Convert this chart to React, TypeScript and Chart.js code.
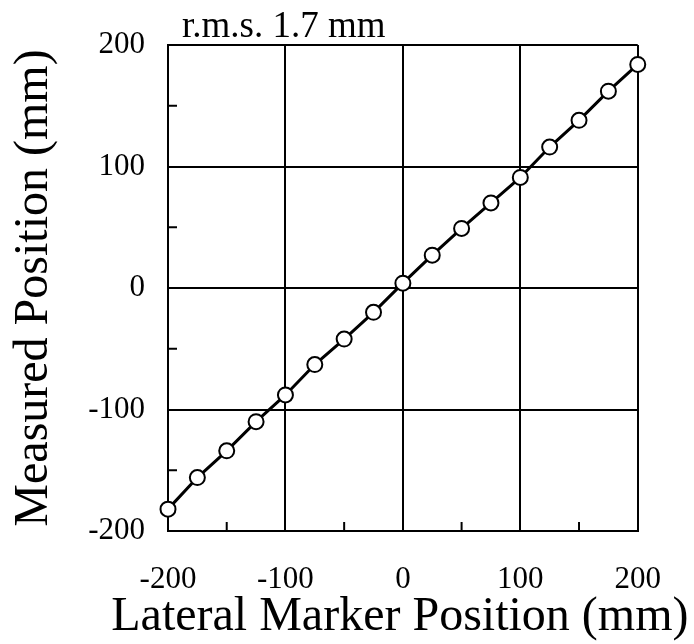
import React, { useEffect, useRef } from "react";
import { Chart, registerables } from "chart.js";
Chart.register(...registerables);

const xPositions = [-200, -175, -150, -125, -100, -75, -50, -25, 0, 25, 50, 75, 100, 125, 150, 175, 200];
const measured = [-182, -156, -134, -110, -88, -63, -42, -20, 4, 27, 49, 70, 91, 116, 138, 162, 184];
const minorTicks = [-150, -50, 50, 150];
const annotation = "r.m.s. 1.7 mm";
const xTitle = "Lateral Marker Position (mm)";
const yTitle = "Measured Position (mm)";

const FONT = '"Liberation Serif", "Times New Roman", serif';

const decorPlugin = {
  id: "decor",
  beforeDatasetsDraw(chart: any) {
    const { ctx, chartArea, scales } = chart;
    ctx.save();
    ctx.strokeStyle = "#000";
    ctx.lineWidth = 2;
    for (const v of minorTicks) {
      const x = scales.x.getPixelForValue(v);
      ctx.beginPath();
      ctx.moveTo(x, chartArea.bottom);
      ctx.lineTo(x, chartArea.bottom - 9);
      ctx.stroke();
      const y = scales.y.getPixelForValue(v);
      ctx.beginPath();
      ctx.moveTo(chartArea.left, y);
      ctx.lineTo(chartArea.left + 9, y);
      ctx.stroke();
    }
    ctx.restore();
  },
  afterDraw(chart: any) {
    const { ctx, chartArea } = chart;
    ctx.save();
    ctx.fillStyle = "#000";
    ctx.textBaseline = "alphabetic";
    // annotation
    ctx.font = `37px ${FONT}`;
    ctx.textAlign = "left";
    ctx.fillText(annotation, chartArea.left + 14, chartArea.top - 8);
    // x title
    ctx.font = `48px ${FONT}`;
    ctx.textAlign = "center";
    ctx.fillText(xTitle, (chartArea.left + chartArea.right) / 2 - 3, 630);
    // y title
    ctx.translate(47, (chartArea.top + chartArea.bottom) / 2);
    ctx.rotate(-Math.PI / 2);
    ctx.fillText(yTitle, 0, 0);
    ctx.restore();
  },
};

export default function App() {
  const ref = useRef<HTMLCanvasElement>(null);
  useEffect(() => {
    if (!ref.current) return;
    const chart = new Chart(ref.current, {
      type: "scatter",
      data: {
        datasets: [
          {
            data: xPositions.map((x, i) => ({ x, y: measured[i] })),
            showLine: true,
            borderColor: "#000",
            borderWidth: 3,
            pointRadius: 7.5,
            pointBackgroundColor: "#fff",
            pointBorderColor: "#000",
            pointBorderWidth: 2,
            clip: false,
          } as any,
        ],
      },
      options: {
        responsive: false,
        animation: false,
        layout: { padding: { top: 45, right: 53, left: 0, bottom: 0 } },
        plugins: { legend: { display: false }, tooltip: { enabled: false } },
        scales: {
          x: {
            type: "linear",
            min: -200,
            max: 200,
            afterFit: (s: any) => {
              s.height = 113;
            },
            ticks: {
              stepSize: 100,
              color: "#000",
              font: { family: FONT, size: 31, lineHeight: 1 },
              padding: 33,
              maxRotation: 0,
            },
            grid: { color: "#000", lineWidth: 2, drawTicks: false },
            border: { color: "#000", width: 2 },
          },
          y: {
            type: "linear",
            min: -200,
            max: 200,
            afterFit: (s: any) => {
              s.width = 168;
            },
            ticks: {
              stepSize: 100,
              color: "#000",
              font: { family: FONT, size: 31, lineHeight: 1 },
              padding: 23,
            },
            grid: { color: "#000", lineWidth: 2, drawTicks: false },
            border: { color: "#000", width: 2 },
          },
        },
      },
      plugins: [decorPlugin],
    });
    return () => chart.destroy();
  }, []);
  return (
    <div style={{ position: "fixed", left: 0, top: 0, width: 694, height: 644, background: "#fff" }}>
      <canvas ref={ref} width={694} height={644} />
    </div>
  );
}
